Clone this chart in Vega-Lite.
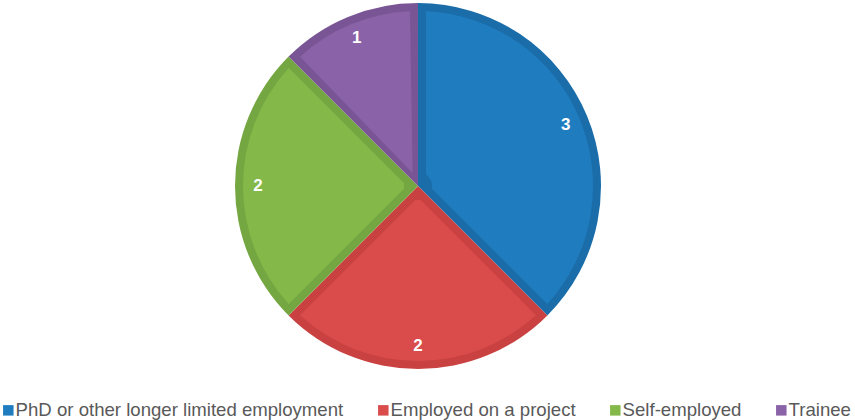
{
  "$schema": "https://vega.github.io/schema/vega-lite/v6.json",
  "width": 836,
  "height": 372,
  "autosize": "none",
  "padding": {"left": 0, "top": 0, "right": 19, "bottom": 48},
  "background": "white",
  "data": {"values": [
    {"category": "PhD or other longer limited employment", "value": 3, "order": 1},
    {"category": "Employed on a project", "value": 2, "order": 2},
    {"category": "Self-employed", "value": 2, "order": 3},
    {"category": "Trainee", "value": 1, "order": 4}
  ]},
  "encoding": {
    "theta": {"field": "value", "type": "quantitative", "stack": true},
    "order": {"field": "order", "type": "quantitative"}
  },
  "resolve": {"scale": {"color": "independent"}, "legend": {"color": "independent"}},
  "layer": [
    {
      "mark": {"type": "arc", "outerRadius": 183},
      "encoding": {
        "color": {
          "field": "category", "type": "nominal",
          "scale": {
            "domain": ["PhD or other longer limited employment", "Employed on a project", "Self-employed", "Trainee"],
            "range": ["#1B6DA9", "#C94141", "#74A641", "#7A5595"]
          },
          "legend": null
        }
      }
    },
    {
      "mark": {"type": "arc", "outerRadius": 175, "innerRadius": 14, "padAngle": 0.0912},
      "encoding": {
        "color": {
          "field": "category", "type": "nominal",
          "scale": {
            "domain": ["PhD or other longer limited employment", "Employed on a project", "Self-employed", "Trainee"],
            "range": ["#1F7DBF", "#DA4C4C", "#84B94A", "#8A62A7"]
          },
          "legend": {
            "orient": "none",
            "legendX": -1,
            "legendY": 401,
            "direction": "horizontal",
            "columns": 4,
            "title": null,
            "symbolType": "square",
            "symbolSize": 110,
            "symbolStrokeWidth": 0,
            "labelFontSize": 18.6,
            "labelFont": "Liberation Sans",
            "labelColor": "#595959",
            "labelOffset": -2,
            "columnPadding": 30,
            "labelLimit": 500
          }
        }
      }
    },
    {
      "mark": {"type": "text", "radius": 160, "color": "white", "fontWeight": "bold", "fontSize": 17, "font": "Liberation Sans", "baseline": "middle", "align": "center"},
      "encoding": {
        "text": {"field": "value", "type": "quantitative"}
      }
    }
  ],
  "config": {"view": {"stroke": null}}
}
